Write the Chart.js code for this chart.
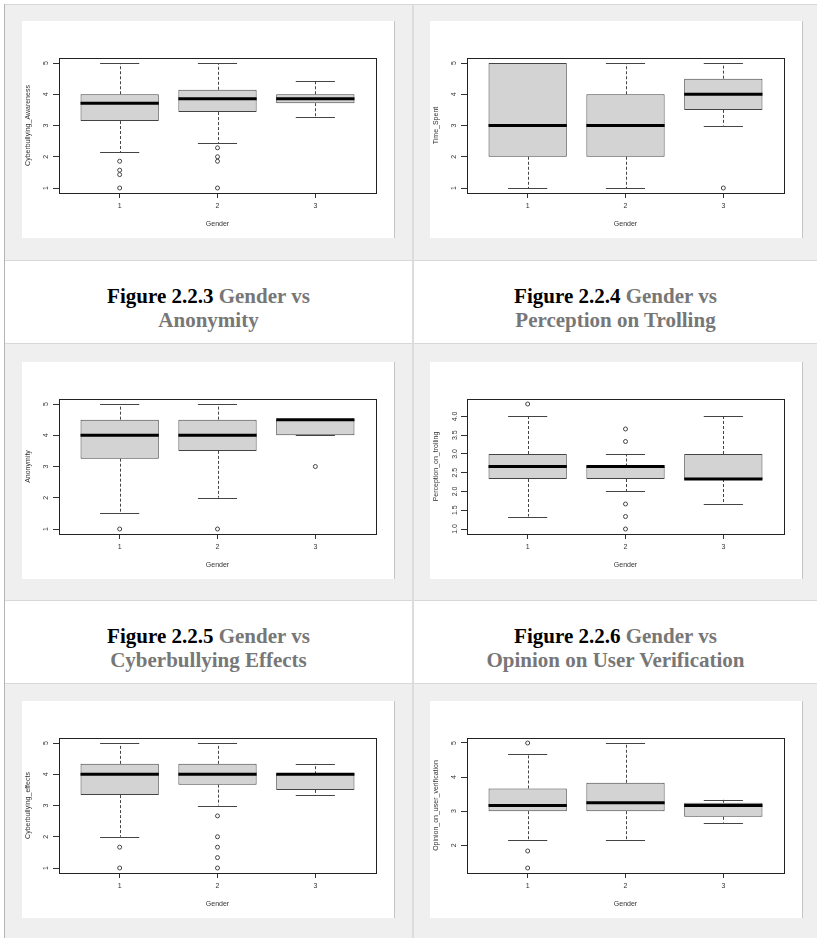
<!DOCTYPE html>
<html>
<head>
<meta charset="utf-8">
<script src="https://cdn.jsdelivr.net/npm/chart.js@4.4.1/dist/chart.umd.min.js"></script>
<style>
  html, body { margin: 0; padding: 0; background: #fff; }
  body { position: relative; width: 817px; height: 938px; overflow: hidden; }
  .band { position: absolute; left: 5px; width: 812px; background: #efefef; }
  .hline { position: absolute; left: 4px; width: 813px; height: 1px; background: #d8d8d8; }
  .vline { position: absolute; top: 4px; height: 934px; }
  .cap { position: absolute; height: 82px; box-sizing: border-box; padding-top: 23px;
         text-align: center; font-family: "Liberation Serif", serif; font-weight: bold;
         font-size: 21px; line-height: 24px; color: #777; }
  .cap b { color: #000; }
  canvas { position: absolute; background: #fff; }
  .edge { position: absolute; width: 1px; height: 217px; background: #c4c4c4; }
</style>
</head>
<body>
  <!-- table cells -->
  <div class="band" style="top:5px;height:255px"></div>
  <div class="band" style="top:344px;height:256px"></div>
  <div class="band" style="top:684px;height:254px"></div>
  <div class="hline" style="top:4px"></div>
  <div class="hline" style="top:260px"></div>
  <div class="hline" style="top:343px"></div>
  <div class="hline" style="top:600px"></div>
  <div class="hline" style="top:683px"></div>
  <div class="vline" style="left:4px;width:1px;background:#b4b4b4"></div>
  <div class="vline" style="left:412px;width:2px;background:#dcdcdc"></div>

  <canvas id="awareness" width="372" height="217" style="left:22px;top:21px"></canvas>
  <div class="edge" style="left:394px;top:21px"></div>
  <canvas id="timeSpent" width="372" height="217" style="left:430px;top:21px"></canvas>
  <div class="edge" style="left:802px;top:21px"></div>

  <div class="cap" style="left:5px;width:407px;top:261px"><b>Figure 2.2.3</b> Gender vs<br>Anonymity</div>
  <div class="cap" style="left:414px;width:403px;top:261px"><b>Figure 2.2.4</b> Gender vs<br>Perception on Trolling</div>

  <canvas id="anonymity" width="372" height="217" style="left:22px;top:362px"></canvas>
  <div class="edge" style="left:394px;top:362px"></div>
  <canvas id="trolling" width="372" height="217" style="left:430px;top:362px"></canvas>
  <div class="edge" style="left:802px;top:362px"></div>

  <div class="cap" style="left:5px;width:407px;top:601px"><b>Figure 2.2.5</b> Gender vs<br>Cyberbullying Effects</div>
  <div class="cap" style="left:414px;width:403px;top:601px"><b>Figure 2.2.6</b> Gender vs<br>Opinion on User Verification</div>

  <canvas id="effects" width="372" height="217" style="left:22px;top:701px"></canvas>
  <div class="edge" style="left:394px;top:701px"></div>
  <canvas id="verification" width="372" height="217" style="left:430px;top:701px"></canvas>
  <div class="edge" style="left:802px;top:701px"></div>

<script>
// Gender groups on the x axis
const groups = [1, 2, 3];
const groupLabels = ['1', '2', '3'];

// Cyberbullying_Awareness by gender
const awarenessLow  = [2.143, 2.429, 3.286];
const awarenessQ1   = [3.143, 3.429, 3.714];
const awarenessMed  = [3.714, 3.857, 3.857];
const awarenessQ3   = [4.0, 4.143, 4.0];
const awarenessHigh = [5.0, 5.0, 4.429];
const awarenessOut  = [[1.857, 1.571, 1.429, 1.0], [2.286, 2.0, 1.857, 1.0], []];

// Time_Spent by gender
const timeLow  = [1.0, 1.0, 3.0];
const timeQ1   = [2.0, 2.0, 3.5];
const timeMed  = [3.0, 3.0, 4.0];
const timeQ3   = [5.0, 4.0, 4.5];
const timeHigh = [5.0, 5.0, 5.0];
const timeOut  = [[], [], [1.0]];

// Anonymity by gender
const anonLow  = [1.5, 2.0, 4.0];
const anonQ1   = [3.25, 3.5, 4.0];
const anonMed  = [4.0, 4.0, 4.5];
const anonQ3   = [4.5, 4.5, 4.5];
const anonHigh = [5.0, 5.0, 4.5];
const anonOut  = [[1.0], [1.0], [3.0]];

// Perception_on_trolling by gender
const trollLow  = [1.333, 2.0, 1.667];
const trollQ1   = [2.333, 2.333, 2.333];
const trollMed  = [2.667, 2.667, 2.333];
const trollQ3   = [3.0, 2.667, 3.0];
const trollHigh = [4.0, 3.0, 4.0];
const trollOut  = [[4.333], [3.667, 3.333, 1.667, 1.333, 1.0], []];

// Cyberbullying_effects by gender
const effectLow  = [2.0, 3.0, 3.333];
const effectQ1   = [3.333, 3.667, 3.5];
const effectMed  = [4.0, 4.0, 4.0];
const effectQ3   = [4.333, 4.333, 4.0];
const effectHigh = [5.0, 5.0, 4.333];
const effectOut  = [[1.667, 1.0], [2.667, 2.0, 1.667, 1.333, 1.0], []];

// Opinion_on_user_verification by gender
const verifyLow  = [2.167, 2.167, 2.667];
const verifyQ1   = [3.0, 3.0, 2.833];
const verifyMed  = [3.167, 3.25, 3.167];
const verifyQ3   = [3.667, 3.833, 3.25];
const verifyHigh = [4.667, 5.0, 3.333];
const verifyOut  = [[5.0, 1.833, 1.333], [], []];

// y-axis tick values and their labels
const ticksOneToFive = [1, 2, 3, 4, 5];
const labelsOneToFive = ['1', '2', '3', '4', '5'];
const ticksTrolling = [1.0, 1.5, 2.0, 2.5, 3.0, 3.5, 4.0];
const labelsTrolling = ['1.0', '1.5', '2.0', '2.5', '3.0', '3.5', '4.0'];
const ticksVerify = [2, 3, 4, 5];
const labelsVerify = ['2', '3', '4', '5'];

const INK = '#333';
const axisFont = { family: 'Liberation Sans, Arial, sans-serif', size: 7 };

// whiskers, staples, medians and the plot frame, placed through the chart scales
const boxParts = {
  id: 'boxParts',
  beforeDatasetsDraw(chart, args, o) {
    const { ctx, scales: { x, y } } = chart;
    ctx.save();
    ctx.strokeStyle = '#444';
    ctx.lineWidth = 1;
    groups.forEach((g, i) => {
      const cx = Math.round(x.getPixelForValue(g)) + 0.5;
      ctx.setLineDash([3, 2]);
      ctx.beginPath();
      ctx.moveTo(cx, y.getPixelForValue(o.q3[i]));
      ctx.lineTo(cx, y.getPixelForValue(o.high[i]));
      ctx.moveTo(cx, y.getPixelForValue(o.q1[i]));
      ctx.lineTo(cx, y.getPixelForValue(o.low[i]));
      ctx.stroke();
      ctx.setLineDash([]);
      const l = x.getPixelForValue(g - 0.2), r = x.getPixelForValue(g + 0.2);
      [o.high[i], o.low[i]].forEach(v => {
        const py = Math.round(y.getPixelForValue(v)) + 0.5;
        ctx.beginPath();
        ctx.moveTo(l, py);
        ctx.lineTo(r, py);
        ctx.stroke();
      });
    });
    ctx.restore();
  },
  afterDatasetsDraw(chart, args, o) {
    const { ctx, scales: { x, y } } = chart;
    ctx.save();
    ctx.strokeStyle = '#000';
    ctx.lineWidth = 3;
    groups.forEach((g, i) => {
      const py = y.getPixelForValue(o.med[i]);
      ctx.beginPath();
      ctx.moveTo(x.getPixelForValue(g - 0.4), py);
      ctx.lineTo(x.getPixelForValue(g + 0.4), py);
      ctx.stroke();
    });
    ctx.restore();
  },
  afterDraw(chart) {
    const { ctx, chartArea: a } = chart;
    ctx.save();
    ctx.strokeStyle = '#222';
    ctx.lineWidth = 1;
    const l = Math.round(a.left) + 0.5, t = Math.round(a.top) + 0.5;
    ctx.strokeRect(l, t, Math.round(a.right) - Math.round(a.left), Math.round(a.bottom) - Math.round(a.top));
    ctx.restore();
  }
};

function drawBoxplot(id, s) {
  const values = s.low.concat(s.high, ...s.out);
  const lo = Math.min(...values), hi = Math.max(...values);
  const pad = (hi - lo) * 0.04;
  new Chart(document.getElementById(id), {
    type: 'bar',
    data: {
      datasets: [
        {
          type: 'bar',
          data: groups.map((g, i) => ({ x: g, y: [s.q1[i], s.q3[i]] })),
          backgroundColor: '#d3d3d3',
          borderColor: '#444',
          borderWidth: 1,
          borderSkipped: false,
          barPercentage: 0.8,
          categoryPercentage: 1
        },
        {
          type: 'scatter',
          data: groups.flatMap((g, i) => s.out[i].map(v => ({ x: g, y: v }))),
          pointRadius: 2,
          pointBorderWidth: 1,
          borderColor: '#444',
          backgroundColor: 'rgba(0,0,0,0)'
        }
      ]
    },
    options: {
      responsive: false,
      animation: false,
      devicePixelRatio: 1,
      events: [],
      layout: { padding: { top: 37, right: 18, left: 0, bottom: 0 } },
      plugins: {
        legend: { display: false },
        tooltip: { enabled: false },
        boxParts: s
      },
      scales: {
        x: {
          type: 'linear',
          offset: false,
          min: 0.38,
          max: 3.62,
          afterBuildTicks: sc => { sc.ticks = groups.map(v => ({ value: v })); },
          afterFit: sc => { sc.height = 45; },
          ticks: { font: axisFont, color: INK, padding: 4, autoSkip: false,
                   callback: (v, i) => groupLabels[i] },
          grid: { offset: false, drawOnChartArea: false, drawTicks: true, tickLength: 5, color: INK },
          border: { display: false },
          title: { display: true, text: 'Gender', font: axisFont, color: INK,
                   padding: { top: 0, bottom: 10 } }
        },
        y: {
          type: 'linear',
          min: lo - pad,
          max: hi + pad,
          bounds: 'data',
          afterBuildTicks: sc => { sc.ticks = s.ticks.map(v => ({ value: v })); },
          afterFit: sc => { sc.width = 37; },
          ticks: { font: axisFont, color: INK, minRotation: 90, maxRotation: 90,
                   crossAlign: 'center', padding: s.tickPad, autoSkip: false,
                   callback: (v, i) => s.labels[i] },
          grid: { drawOnChartArea: false, drawTicks: true, tickLength: 6, color: INK },
          border: { display: false },
          title: { display: true, text: s.title, font: axisFont, color: INK,
                   padding: { top: 2, bottom: 0 } }
        }
      }
    },
    plugins: [boxParts]
  });
}

drawBoxplot('awareness', { title: 'Cyberbullying_Awareness', low: awarenessLow, q1: awarenessQ1,
  med: awarenessMed, q3: awarenessQ3, high: awarenessHigh, out: awarenessOut,
  ticks: ticksOneToFive, labels: labelsOneToFive, tickPad: 5 });
drawBoxplot('timeSpent', { title: 'Time_Spent', low: timeLow, q1: timeQ1,
  med: timeMed, q3: timeQ3, high: timeHigh, out: timeOut,
  ticks: ticksOneToFive, labels: labelsOneToFive, tickPad: 5 });
drawBoxplot('anonymity', { title: 'Anonymity', low: anonLow, q1: anonQ1,
  med: anonMed, q3: anonQ3, high: anonHigh, out: anonOut,
  ticks: ticksOneToFive, labels: labelsOneToFive, tickPad: 5 });
drawBoxplot('trolling', { title: 'Perception_on_trolling', low: trollLow, q1: trollQ1,
  med: trollMed, q3: trollQ3, high: trollHigh, out: trollOut,
  ticks: ticksTrolling, labels: labelsTrolling, tickPad: 1 });
drawBoxplot('effects', { title: 'Cyberbullying_effects', low: effectLow, q1: effectQ1,
  med: effectMed, q3: effectQ3, high: effectHigh, out: effectOut,
  ticks: ticksOneToFive, labels: labelsOneToFive, tickPad: 5 });
drawBoxplot('verification', { title: 'Opinion_on_user_verification', low: verifyLow, q1: verifyQ1,
  med: verifyMed, q3: verifyQ3, high: verifyHigh, out: verifyOut,
  ticks: ticksVerify, labels: labelsVerify, tickPad: 5 });
</script>
</body>
</html>
